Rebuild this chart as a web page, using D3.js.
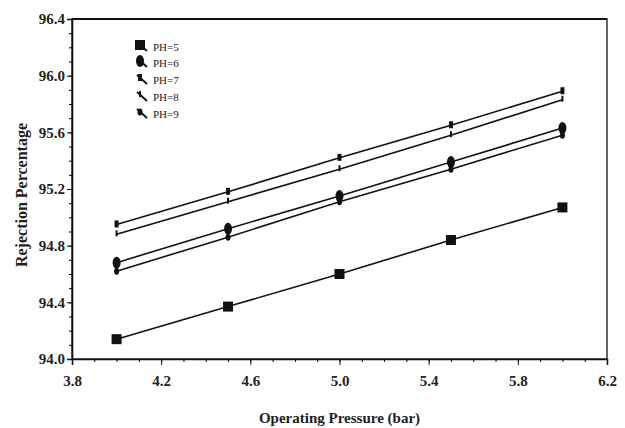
<script src="https://d3js.org/d3.v7.min.js"></script>
<body style="margin:0;background:#fff"></body>
<script>
  // data
  var pressure = [4.0, 4.5, 5.0, 5.5, 6.0];
  var ph5 = [94.14, 94.37, 94.60, 94.84, 95.07];
  var ph6 = [94.68, 94.92, 95.15, 95.39, 95.63];
  var ph7 = [94.95, 95.18, 95.42, 95.65, 95.89];
  var ph8 = [94.88, 95.11, 95.34, 95.58, 95.83];
  var ph9 = [94.62, 94.86, 95.11, 95.34, 95.58];
  var xTicks = [3.8, 4.2, 4.6, 5.0, 5.4, 5.8, 6.2];
  var yTicks = [94.0, 94.4, 94.8, 95.2, 95.6, 96.0, 96.4];

  var series = [
    {name: "PH=5", values: ph5, mark: "square"},
    {name: "PH=6", values: ph6, mark: "circle"},
    {name: "PH=7", values: ph7, mark: "bar"},
    {name: "PH=8", values: ph8, mark: "tick"},
    {name: "PH=9", values: ph9, mark: "dot"}
  ];

  var W = 625, H = 428;
  var m = {left: 72, top: 19, right: 18, bottom: 69};

  var svg = d3.select("body").append("svg")
    .attr("width", W).attr("height", H)
    .style("font-family", "'Liberation Serif', serif");

  var x = d3.scaleLinear().domain([3.8, 6.2]).range([m.left, W - m.right]);
  var y = d3.scaleLinear().domain([94.0, 96.4]).range([H - m.bottom, m.top]);

  // frame
  svg.append("rect")
    .attr("x", x(3.8)).attr("y", y(96.4))
    .attr("width", x(6.2) - x(3.8)).attr("height", y(94.0) - y(96.4))
    .attr("fill", "none").attr("stroke", "#111").attr("stroke-width", 1.3);
  svg.append("line")
    .attr("x1", x(3.8)).attr("x2", x(6.2)).attr("y1", y(96.4)).attr("y2", y(96.4))
    .attr("stroke", "#111").attr("stroke-width", 2);

  // minor ticks
  var xMinor = d3.range(38, 63).map(function(d){ return d / 10; });
  var yMinor = d3.range(940, 965).map(function(d){ return d / 10; });

  svg.append("g")
    .attr("transform", "translate(0," + y(94.0) + ")")
    .call(d3.axisBottom(x).tickValues(xMinor).tickSize(3).tickFormat(""))
    .call(function(g){ g.select(".domain").remove(); });
  svg.append("g")
    .attr("transform", "translate(" + x(3.8) + ",0)")
    .call(d3.axisLeft(y).tickValues(yMinor).tickSize(3).tickFormat(""))
    .call(function(g){ g.select(".domain").remove(); });

  // major axes
  var xAxis = svg.append("g")
    .attr("transform", "translate(0," + y(94.0) + ")")
    .call(d3.axisBottom(x).tickValues(xTicks).tickSize(6).tickPadding(10).tickFormat(d3.format(".1f")));
  var yAxis = svg.append("g")
    .attr("transform", "translate(" + x(3.8) + ",0)")
    .call(d3.axisLeft(y).tickValues(yTicks).tickSize(5).tickPadding(2).tickFormat(d3.format(".1f")));

  [xAxis, yAxis].forEach(function(g){
    g.selectAll("text")
      .style("font-family", "'Liberation Serif', serif")
      .style("font-size", "15px")
      .style("font-weight", "bold")
      .attr("fill", "#222");
    g.select(".domain").attr("stroke", "#111").attr("stroke-width", 1.6);
    g.selectAll(".tick line").attr("stroke", "#111");
  });

  // axis titles
  svg.append("text")
    .attr("x", (x(3.8) + x(6.2)) / 2).attr("y", 423)
    .attr("text-anchor", "middle")
    .style("font-size", "15px").style("font-weight", "bold")
    .attr("fill", "#222")
    .text("Operating Pressure (bar)");
  svg.append("text")
    .attr("transform", "translate(27,195) rotate(-90)")
    .attr("text-anchor", "middle")
    .style("font-size", "16px").style("font-weight", "bold")
    .attr("fill", "#222")
    .text("Rejection Percentage");

  // lines
  var line = d3.line()
    .x(function(d, i){ return x(pressure[i]); })
    .y(function(d){ return y(d); });

  svg.selectAll(".series")
    .data(series)
    .enter()
    .append("path")
    .attr("class", "series")
    .attr("d", function(d){ return line(d.values); })
    .attr("fill", "none")
    .attr("stroke", "#111")
    .attr("stroke-width", 1.6);

  function drawMark(g, type, cx, cy) {
    if (type == "square") {
      g.append("rect").attr("x", cx - 5).attr("y", cy - 5).attr("width", 10).attr("height", 10).attr("fill", "#111");
    } else if (type == "circle") {
      g.append("ellipse").attr("cx", cx).attr("cy", cy).attr("rx", 4).attr("ry", 6).attr("fill", "#111");
    } else if (type == "bar") {
      g.append("rect").attr("x", cx - 2).attr("y", cy - 4).attr("width", 4).attr("height", 7).attr("fill", "#111");
    } else if (type == "tick") {
      g.append("rect").attr("x", cx - 1).attr("y", cy - 4).attr("width", 2).attr("height", 6).attr("fill", "#111");
    } else {
      g.append("ellipse").attr("cx", cx).attr("cy", cy).attr("rx", 2.5).attr("ry", 3.5).attr("fill", "#111");
    }
  }

  var markG = svg.append("g");
  series.forEach(function(s){
    s.values.forEach(function(v, i){
      drawMark(markG, s.mark, x(pressure[i]), y(v));
    });
  });

  // legend
  var legY = [47, 63, 80, 97, 114];
  var leg = svg.append("g");
  series.forEach(function(s, i){
    leg.append("line")
      .attr("x1", 137).attr("y1", legY[i] - 5)
      .attr("x2", 147).attr("y2", legY[i] + 4)
      .attr("stroke", "#111").attr("stroke-width", 1.8);
    drawMark(leg, s.mark, 140, legY[i] - 2);
    leg.append("text")
      .attr("x", 153).attr("y", legY[i] + 4)
      .style("font-size", "11px")
      .attr("fill", "#222")
      .text(s.name);
  });
</script>
